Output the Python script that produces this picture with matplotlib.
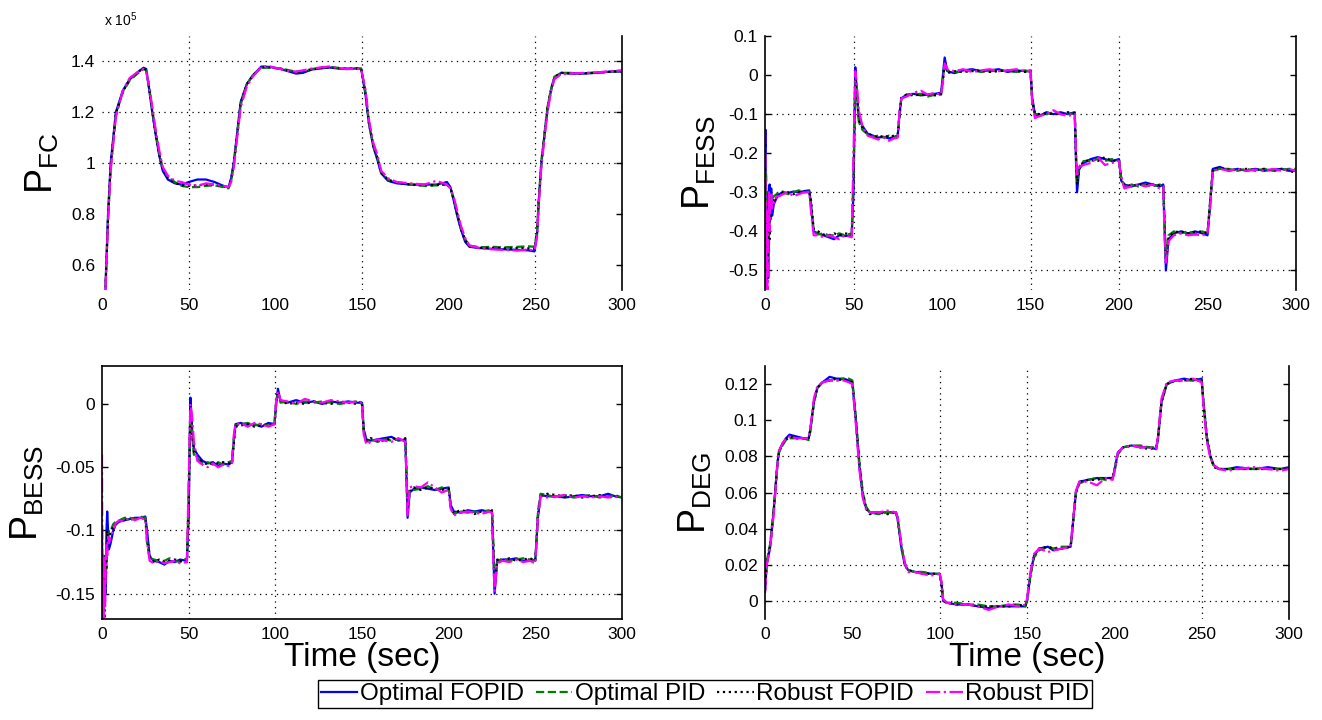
import matplotlib
matplotlib.use("Agg")
import matplotlib.pyplot as plt

plt.rcParams["font.family"] = ["Liberation Sans", "DejaVu Sans"]
plt.rcParams["mathtext.fontset"] = "custom"
plt.rcParams["mathtext.rm"] = "Liberation Sans"
plt.rcParams["mathtext.it"] = "Liberation Sans"

series_names = ["Optimal FOPID", "Optimal PID", "Robust FOPID", "Robust PID"]

# ---- P_FC (values in units of 1e5) ----
t_fc = [2, 3.5, 5, 8, 12, 16, 21, 24, 25.5, 27,
        29, 31, 33, 35, 38, 42, 46, 50, 55, 60,
        65, 70, 73, 74.5, 76, 78, 80, 83.5, 87, 92,
        97, 103, 108, 112, 116, 121, 126, 131, 136, 141,
        146, 149.5, 152, 154, 156.5, 159, 161, 165, 170, 178,
        186, 193, 199, 201, 203, 205, 207, 209.5, 212, 218,
        225, 232, 240, 246, 249.5, 251, 252, 253.5, 255.5, 257,
        259, 261, 265, 270, 278, 286, 294, 300]
fc_opt_fopid = [0.50, 0.80, 1.00, 1.20, 1.285, 1.33, 1.36, 1.375, 1.37, 1.30,
                1.20, 1.11, 1.03, 0.97, 0.935, 0.92, 0.915, 0.925, 0.935, 0.935,
                0.925, 0.91, 0.905, 0.94, 1.00, 1.12, 1.24, 1.31, 1.345, 1.38,
                1.378, 1.37, 1.36, 1.352, 1.355, 1.368, 1.372, 1.376, 1.372, 1.37,
                1.372, 1.372, 1.27, 1.155, 1.065, 1.01, 0.96, 0.93, 0.92, 0.915,
                0.915, 0.915, 0.925, 0.905, 0.85, 0.79, 0.74, 0.69, 0.67, 0.665,
                0.662, 0.66, 0.658, 0.656, 0.652, 0.72, 0.85, 1.00, 1.12, 1.21,
                1.285, 1.335, 1.355, 1.352, 1.352, 1.355, 1.36, 1.36]
fc_opt_pid = [0.52, 0.78, 0.98, 1.19, 1.28, 1.325, 1.355, 1.37, 1.365, 1.31,
              1.21, 1.12, 1.04, 0.98, 0.945, 0.925, 0.91, 0.905, 0.905, 0.91,
              0.912, 0.905, 0.90, 0.93, 0.99, 1.11, 1.23, 1.31, 1.345, 1.375,
              1.375, 1.372, 1.365, 1.36, 1.362, 1.37, 1.375, 1.378, 1.375, 1.372,
              1.373, 1.37, 1.28, 1.16, 1.07, 1.02, 0.965, 0.935, 0.925, 0.915,
              0.91, 0.912, 0.915, 0.90, 0.86, 0.80, 0.745, 0.70, 0.675, 0.668,
              0.67, 0.668, 0.67, 0.672, 0.67, 0.73, 0.86, 1.01, 1.13, 1.22,
              1.29, 1.34, 1.355, 1.355, 1.353, 1.357, 1.36, 1.362]
fc_rob_fopid = [0.51, 0.79, 0.99, 1.195, 1.28, 1.33, 1.36, 1.372, 1.367, 1.305,
                1.205, 1.115, 1.035, 0.975, 0.94, 0.922, 0.912, 0.91, 0.912, 0.915,
                0.915, 0.908, 0.902, 0.935, 0.995, 1.115, 1.235, 1.31, 1.345, 1.378,
                1.376, 1.372, 1.363, 1.357, 1.36, 1.368, 1.374, 1.377, 1.373, 1.371,
                1.372, 1.371, 1.275, 1.158, 1.068, 1.015, 0.962, 0.932, 0.922, 0.915,
                0.912, 0.913, 0.918, 0.902, 0.855, 0.795, 0.742, 0.695, 0.672, 0.666,
                0.666, 0.664, 0.665, 0.664, 0.662, 0.725, 0.855, 1.005, 1.125, 1.215,
                1.288, 1.338, 1.355, 1.353, 1.353, 1.356, 1.36, 1.361]
fc_rob_pid = [0.50, 0.77, 0.97, 1.18, 1.285, 1.335, 1.36, 1.37, 1.36, 1.31,
              1.22, 1.13, 1.05, 0.985, 0.95, 0.93, 0.925, 0.915, 0.91, 0.92,
              0.915, 0.91, 0.905, 0.925, 0.98, 1.10, 1.22, 1.30, 1.34, 1.38,
              1.38, 1.37, 1.362, 1.36, 1.365, 1.372, 1.376, 1.38, 1.374, 1.37,
              1.37, 1.37, 1.29, 1.17, 1.08, 1.03, 0.97, 0.94, 0.925, 0.92,
              0.915, 0.93, 0.915, 0.90, 0.865, 0.81, 0.755, 0.705, 0.675, 0.665,
              0.66, 0.658, 0.655, 0.66, 0.655, 0.71, 0.84, 0.99, 1.11, 1.20,
              1.28, 1.33, 1.35, 1.352, 1.355, 1.357, 1.362, 1.365]

# ---- P_FESS and P_BESS share the same time knots ----
t_ess = [0, 0.3, 0.6, 1.0, 1.4, 1.8, 2.2, 2.6, 3.0, 3.5,
         4, 5, 6.5, 8, 10, 13, 16, 19, 22, 25,
         26, 27.5, 30, 33, 36, 39, 42, 45, 49, 50,
         51, 52, 53, 55, 58, 61, 64, 67, 70, 73,
         75, 76, 77, 80, 84, 88, 92, 96, 99.5, 100.5,
         101.5, 103, 107, 112, 117, 122, 127, 132, 137, 142,
         147, 150, 151, 152.5, 155, 159, 163, 167, 171, 175,
         175.7, 176.3, 177.5, 180, 184, 188, 192, 196, 200, 201.2,
         203, 207, 211, 215, 219, 223, 225, 225.8, 226.5, 228,
         231, 235, 239, 243, 247, 250, 251.5, 253, 257, 262,
         267, 272, 277, 282, 287, 292, 296, 300]
fess_opt_fopid = [-0.20, -0.14, -0.45, -0.55, -0.30, -0.52, -0.38, -0.28, -0.37, -0.29,
                  -0.36, -0.33, -0.315, -0.305, -0.30, -0.302, -0.298, -0.30, -0.297, -0.295,
                  -0.33, -0.40, -0.405, -0.41, -0.415, -0.42, -0.41, -0.412, -0.41, -0.30,
                  0.02, -0.05, -0.11, -0.13, -0.15, -0.155, -0.16, -0.158, -0.162, -0.158,
                  -0.155, -0.10, -0.06, -0.05, -0.048, -0.052, -0.05, -0.048, -0.045, 0.00,
                  0.045, 0.01, 0.005, 0.012, 0.015, 0.01, 0.012, 0.015, 0.008, 0.012,
                  0.01, 0.01, -0.06, -0.10, -0.105, -0.095, -0.10, -0.095, -0.10, -0.095,
                  -0.22, -0.30, -0.24, -0.225, -0.215, -0.21, -0.215, -0.22, -0.215, -0.27,
                  -0.28, -0.285, -0.28, -0.275, -0.28, -0.285, -0.28, -0.40, -0.50, -0.42,
                  -0.405, -0.40, -0.405, -0.40, -0.405, -0.41, -0.33, -0.24, -0.235, -0.245,
                  -0.24, -0.245, -0.24, -0.245, -0.242, -0.24, -0.245, -0.245]
fess_opt_pid = [-0.40, -0.55, -0.25, -0.50, -0.42, -0.35, -0.45, -0.33, -0.31, -0.34,
                -0.32, -0.31, -0.305, -0.30, -0.298, -0.305, -0.30, -0.295, -0.30, -0.298,
                -0.34, -0.40, -0.408, -0.405, -0.41, -0.41, -0.405, -0.41, -0.405, -0.25,
                -0.02, -0.06, -0.12, -0.14, -0.152, -0.158, -0.155, -0.16, -0.155, -0.16,
                -0.155, -0.11, -0.06, -0.052, -0.05, -0.048, -0.055, -0.05, -0.05, -0.01,
                0.03, 0.012, 0.008, 0.01, 0.012, 0.008, 0.01, 0.012, 0.01, 0.008,
                0.012, 0.008, -0.07, -0.10, -0.10, -0.10, -0.095, -0.10, -0.098, -0.10,
                -0.20, -0.27, -0.235, -0.22, -0.22, -0.215, -0.22, -0.215, -0.22, -0.26,
                -0.285, -0.28, -0.285, -0.28, -0.285, -0.28, -0.285, -0.38, -0.47, -0.41,
                -0.40, -0.405, -0.40, -0.408, -0.40, -0.405, -0.32, -0.245, -0.24, -0.24,
                -0.245, -0.24, -0.245, -0.24, -0.245, -0.242, -0.24, -0.24]
fess_rob_fopid = [-0.30, -0.50, -0.40, -0.45, -0.50, -0.40, -0.35, -0.42, -0.33, -0.32,
                  -0.33, -0.32, -0.31, -0.305, -0.30, -0.30, -0.305, -0.30, -0.298, -0.30,
                  -0.32, -0.395, -0.40, -0.408, -0.41, -0.405, -0.41, -0.405, -0.408, -0.28,
                  0.0, -0.055, -0.115, -0.135, -0.15, -0.155, -0.16, -0.155, -0.158, -0.155,
                  -0.152, -0.10, -0.058, -0.05, -0.052, -0.05, -0.05, -0.052, -0.048, -0.02,
                  0.035, 0.005, 0.01, 0.008, 0.01, 0.012, 0.008, 0.01, 0.012, 0.01,
                  0.008, 0.012, -0.065, -0.098, -0.10, -0.098, -0.10, -0.10, -0.095, -0.098,
                  -0.21, -0.28, -0.24, -0.22, -0.218, -0.22, -0.21, -0.22, -0.218, -0.265,
                  -0.28, -0.283, -0.28, -0.282, -0.28, -0.283, -0.282, -0.39, -0.48, -0.415,
                  -0.402, -0.40, -0.405, -0.402, -0.40, -0.405, -0.325, -0.24, -0.238, -0.242,
                  -0.242, -0.24, -0.243, -0.24, -0.245, -0.24, -0.245, -0.25]
fess_rob_pid = [-0.14, -0.30, -0.55, -0.35, -0.55, -0.45, -0.30, -0.40, -0.32, -0.30,
                -0.34, -0.33, -0.31, -0.31, -0.305, -0.30, -0.31, -0.305, -0.30, -0.30,
                -0.35, -0.41, -0.41, -0.415, -0.41, -0.415, -0.42, -0.41, -0.415, -0.20,
                0.01, -0.03, -0.09, -0.13, -0.155, -0.16, -0.165, -0.16, -0.168, -0.162,
                -0.16, -0.09, -0.06, -0.055, -0.045, -0.04, -0.05, -0.045, -0.05, -0.02,
                0.03, 0.015, 0.01, 0.015, 0.008, 0.012, 0.015, 0.01, 0.012, 0.015,
                0.01, 0.012, -0.075, -0.11, -0.105, -0.10, -0.09, -0.10, -0.105, -0.10,
                -0.20, -0.26, -0.235, -0.23, -0.225, -0.21, -0.23, -0.225, -0.22, -0.26,
                -0.29, -0.285, -0.28, -0.285, -0.28, -0.29, -0.285, -0.42, -0.48, -0.425,
                -0.41, -0.405, -0.41, -0.408, -0.41, -0.405, -0.34, -0.245, -0.24, -0.245,
                -0.24, -0.245, -0.242, -0.245, -0.24, -0.245, -0.24, -0.245]

bess_opt_fopid = [-0.10, -0.16, -0.17, -0.12, -0.16, -0.13, -0.15, -0.10, -0.085, -0.10,
                  -0.115, -0.11, -0.10, -0.095, -0.093, -0.092, -0.091, -0.09, -0.09, -0.089,
                  -0.10, -0.121, -0.124, -0.125, -0.127, -0.124, -0.125, -0.123, -0.124, -0.09,
                  0.005, -0.02, -0.035, -0.04, -0.045, -0.047, -0.046, -0.049, -0.047, -0.048,
                  -0.046, -0.03, -0.016, -0.015, -0.017, -0.016, -0.018, -0.015, -0.016, 0.0,
                  0.012, 0.002, 0.001, 0.003, 0.001, 0.002, 0.0, 0.002, 0.001, 0.002,
                  0.001, 0.001, -0.02, -0.028, -0.029, -0.028, -0.027, -0.026, -0.029, -0.028,
                  -0.06, -0.09, -0.07, -0.067, -0.066, -0.067, -0.068, -0.067, -0.066, -0.08,
                  -0.085, -0.086, -0.084, -0.085, -0.084, -0.085, -0.085, -0.12, -0.15, -0.124,
                  -0.123, -0.123, -0.122, -0.124, -0.124, -0.123, -0.09, -0.072, -0.073, -0.073,
                  -0.074, -0.073, -0.072, -0.073, -0.073, -0.071, -0.073, -0.074]
bess_opt_pid = [-0.13, -0.17, -0.12, -0.16, -0.14, -0.15, -0.12, -0.13, -0.11, -0.105,
                -0.10, -0.10, -0.095, -0.093, -0.092, -0.09, -0.09, -0.091, -0.089, -0.09,
                -0.11, -0.122, -0.123, -0.124, -0.124, -0.122, -0.124, -0.125, -0.122, -0.07,
                -0.005, -0.025, -0.04, -0.043, -0.047, -0.046, -0.048, -0.046, -0.048, -0.046,
                -0.045, -0.028, -0.017, -0.016, -0.015, -0.017, -0.016, -0.017, -0.015, 0.002,
                0.008, 0.001, 0.002, 0.0, 0.002, 0.001, 0.002, 0.001, 0.0, 0.001,
                0.002, 0.0, -0.022, -0.03, -0.028, -0.03, -0.028, -0.029, -0.028, -0.029,
                -0.055, -0.08, -0.068, -0.068, -0.067, -0.065, -0.068, -0.066, -0.067, -0.08,
                -0.087, -0.085, -0.086, -0.085, -0.086, -0.084, -0.086, -0.11, -0.14, -0.125,
                -0.122, -0.124, -0.123, -0.122, -0.123, -0.124, -0.085, -0.071, -0.072, -0.074,
                -0.072, -0.074, -0.073, -0.072, -0.074, -0.073, -0.072, -0.074]
bess_rob_fopid = [-0.15, -0.12, -0.16, -0.14, -0.17, -0.12, -0.14, -0.12, -0.10, -0.11,
                  -0.105, -0.102, -0.097, -0.095, -0.093, -0.091, -0.092, -0.09, -0.091, -0.09,
                  -0.105, -0.12, -0.125, -0.123, -0.125, -0.124, -0.123, -0.124, -0.125, -0.08,
                  0.0, -0.022, -0.038, -0.042, -0.046, -0.048, -0.047, -0.047, -0.046, -0.047,
                  -0.047, -0.032, -0.018, -0.017, -0.016, -0.018, -0.017, -0.016, -0.017, 0.001,
                  0.01, 0.003, 0.0, 0.001, 0.0, 0.002, 0.001, 0.0, 0.002, 0.001,
                  0.0, 0.002, -0.021, -0.029, -0.027, -0.029, -0.029, -0.027, -0.028, -0.027,
                  -0.058, -0.085, -0.069, -0.066, -0.068, -0.066, -0.067, -0.068, -0.067, -0.082,
                  -0.086, -0.084, -0.085, -0.087, -0.085, -0.086, -0.084, -0.115, -0.145, -0.123,
                  -0.124, -0.122, -0.124, -0.123, -0.122, -0.124, -0.088, -0.073, -0.071, -0.072,
                  -0.073, -0.072, -0.074, -0.073, -0.072, -0.074, -0.073, -0.073]
bess_rob_pid = [-0.04, -0.17, -0.14, -0.17, -0.12, -0.16, -0.13, -0.11, -0.12, -0.105,
                -0.11, -0.105, -0.10, -0.094, -0.092, -0.093, -0.09, -0.092, -0.09, -0.091,
                -0.11, -0.124, -0.126, -0.124, -0.126, -0.125, -0.124, -0.126, -0.125, -0.06,
                0.0, -0.01, -0.03, -0.045, -0.048, -0.05, -0.047, -0.05, -0.048, -0.049,
                -0.047, -0.025, -0.016, -0.015, -0.018, -0.015, -0.016, -0.018, -0.016, 0.003,
                0.01, 0.003, 0.002, 0.0, 0.004, 0.002, 0.001, 0.003, 0.002, 0.001,
                0.002, 0.001, -0.024, -0.032, -0.03, -0.028, -0.029, -0.03, -0.027, -0.03,
                -0.06, -0.088, -0.066, -0.065, -0.066, -0.062, -0.066, -0.07, -0.068, -0.083,
                -0.088, -0.086, -0.085, -0.086, -0.087, -0.085, -0.086, -0.125, -0.148, -0.126,
                -0.124, -0.125, -0.123, -0.125, -0.124, -0.126, -0.09, -0.073, -0.074, -0.073,
                -0.072, -0.074, -0.073, -0.074, -0.073, -0.074, -0.073, -0.074]

# ---- P_DEG ----
t_deg = [0, 1, 3, 5, 7, 8, 10, 12, 14, 18,
         22, 25, 26, 28, 30, 33, 37, 41, 45, 48,
         50, 52, 54, 56, 58, 60, 65, 70, 75, 76,
         78, 80, 82, 86, 90, 95, 100, 101, 102, 104,
         110, 116, 122, 128, 134, 140, 145, 149, 150, 152,
         154, 157, 162, 165, 170, 175, 176, 178, 180, 185,
         190, 195, 199, 200, 202, 205, 210, 215, 220, 224,
         225, 227, 230, 235, 240, 245, 250, 251, 253, 255,
         257, 260, 265, 270, 280, 288, 295, 300]
deg_opt_fopid = [0.005, 0.02, 0.03, 0.05, 0.075, 0.083, 0.087, 0.09, 0.092, 0.091,
                 0.09, 0.09, 0.095, 0.11, 0.118, 0.121, 0.124, 0.123, 0.123, 0.122,
                 0.121, 0.10, 0.075, 0.058, 0.051, 0.049, 0.049, 0.049, 0.049, 0.045,
                 0.03, 0.02, 0.017, 0.016, 0.016, 0.015, 0.015, 0.01, 0.0, -0.001,
                 -0.002, -0.002, -0.003, -0.004, -0.003, -0.003, -0.003, -0.003, 0.0, 0.015,
                 0.025, 0.029, 0.03, 0.028, 0.029, 0.03, 0.04, 0.06, 0.066, 0.067,
                 0.068, 0.068, 0.068, 0.072, 0.082, 0.085, 0.086, 0.085, 0.085, 0.084,
                 0.09, 0.11, 0.12, 0.122, 0.123, 0.122, 0.123, 0.11, 0.09, 0.08,
                 0.075, 0.073, 0.073, 0.074, 0.073, 0.074, 0.073, 0.074]
deg_opt_pid = [0.008, 0.022, 0.032, 0.052, 0.074, 0.082, 0.086, 0.089, 0.09, 0.09,
               0.09, 0.089, 0.094, 0.11, 0.118, 0.121, 0.122, 0.122, 0.123, 0.123,
               0.122, 0.102, 0.077, 0.06, 0.052, 0.049, 0.048, 0.049, 0.049, 0.046,
               0.031, 0.021, 0.017, 0.016, 0.016, 0.015, 0.015, 0.01, 0.001, -0.001,
               -0.001, -0.002, -0.002, -0.003, -0.003, -0.002, -0.002, -0.003, 0.0, 0.014,
               0.024, 0.028, 0.03, 0.029, 0.03, 0.03, 0.04, 0.06, 0.065, 0.067,
               0.068, 0.067, 0.068, 0.071, 0.081, 0.085, 0.086, 0.086, 0.085, 0.085,
               0.09, 0.11, 0.12, 0.122, 0.122, 0.122, 0.122, 0.111, 0.091, 0.08,
               0.074, 0.073, 0.073, 0.073, 0.073, 0.073, 0.073, 0.073]
deg_rob_fopid = [0.006, 0.021, 0.031, 0.05, 0.075, 0.082, 0.087, 0.089, 0.091, 0.09,
                 0.09, 0.09, 0.095, 0.11, 0.118, 0.121, 0.122, 0.123, 0.122, 0.122,
                 0.121, 0.101, 0.076, 0.059, 0.051, 0.048, 0.049, 0.048, 0.049, 0.045,
                 0.03, 0.02, 0.017, 0.016, 0.015, 0.015, 0.015, 0.01, 0.0, -0.001,
                 -0.002, -0.002, -0.003, -0.003, -0.003, -0.003, -0.002, -0.003, 0.0, 0.015,
                 0.025, 0.029, 0.03, 0.029, 0.029, 0.03, 0.04, 0.06, 0.066, 0.067,
                 0.067, 0.068, 0.068, 0.072, 0.082, 0.085, 0.086, 0.085, 0.084, 0.085,
                 0.09, 0.11, 0.12, 0.122, 0.122, 0.123, 0.122, 0.11, 0.09, 0.08,
                 0.074, 0.073, 0.073, 0.073, 0.073, 0.073, 0.073, 0.073]
deg_rob_pid = [0.005, 0.02, 0.03, 0.048, 0.074, 0.083, 0.087, 0.09, 0.091, 0.09,
               0.09, 0.09, 0.096, 0.112, 0.119, 0.121, 0.122, 0.122, 0.122, 0.121,
               0.12, 0.098, 0.073, 0.057, 0.05, 0.049, 0.049, 0.05, 0.049, 0.046,
               0.032, 0.021, 0.016, 0.016, 0.015, 0.014, 0.015, 0.011, 0.001, -0.001,
               -0.002, -0.002, -0.003, -0.005, -0.003, -0.002, -0.003, -0.002, 0.001, 0.016,
               0.026, 0.029, 0.027, 0.028, 0.029, 0.03, 0.041, 0.061, 0.066, 0.066,
               0.064, 0.068, 0.067, 0.071, 0.082, 0.085, 0.086, 0.085, 0.085, 0.084,
               0.091, 0.112, 0.121, 0.122, 0.122, 0.123, 0.121, 0.109, 0.088, 0.079,
               0.075, 0.073, 0.072, 0.073, 0.074, 0.073, 0.072, 0.073]

line_styles = [("-", "#0000ff"), ("--", "#008000"), (":", "black"), ("-.", "#ff00ff")]
grid_ls = (0, (1, 3.5))

W, H = 1322, 720
fig = plt.figure(figsize=(W / 100, H / 100), dpi=100)


def px_axes(l, t, r, b):
    return fig.add_axes([l / W, 1 - b / H, (r - l) / W, (b - t) / H])


panels = [
    dict(box=(102, 36, 622, 290), t=t_fc,
         ys=[fc_opt_fopid, fc_opt_pid, fc_rob_fopid, fc_rob_pid],
         ylim=(0.5, 1.5), yticks=[0.6, 0.8, 1.0, 1.2, 1.4],
         label=r"$\mathregular{P_{FC}}$", vgrid=[50, 150, 250], hgrid=[1.0, 1.2, 1.4],
         spines=["right"], xlabel=False),
    dict(box=(765, 36, 1296, 290), t=t_ess,
         ys=[fess_opt_fopid, fess_opt_pid, fess_rob_fopid, fess_rob_pid],
         ylim=(-0.55, 0.1), yticks=[-0.5, -0.4, -0.3, -0.2, -0.1, 0, 0.1],
         label=r"$\mathregular{P_{FESS}}$", vgrid=[50, 150, 200], hgrid=[-0.5, -0.3, -0.1],
         spines=["left", "right"], xlabel=False),
    dict(box=(102, 366, 622, 619), t=t_ess,
         ys=[bess_opt_fopid, bess_opt_pid, bess_rob_fopid, bess_rob_pid],
         ylim=(-0.17, 0.03), yticks=[-0.15, -0.1, -0.05, 0],
         label=r"$\mathregular{P_{BESS}}$", vgrid=[50, 100], hgrid=[-0.15, -0.1],
         spines=["left", "right", "top", "bottom"], xlabel=True),
    dict(box=(765, 366, 1289, 619), t=t_deg,
         ys=[deg_opt_fopid, deg_opt_pid, deg_rob_fopid, deg_rob_pid],
         ylim=(-0.01, 0.13), yticks=[0, 0.02, 0.04, 0.06, 0.08, 0.1, 0.12],
         label=r"$\mathregular{P_{DEG}}$", vgrid=[100, 150, 250], hgrid=[0, 0.02, 0.06, 0.08],
         spines=["left", "right"], xlabel=True),
]

handles = []
for p in panels:
    ax = px_axes(*p["box"])
    for v in p["vgrid"]:
        ax.axvline(v, color="black", lw=0.9, ls=grid_ls, zorder=0)
    for h in p["hgrid"]:
        ax.axhline(h, color="black", lw=0.9, ls=grid_ls, zorder=0)
    hs = []
    for (ls, c), y, name in zip(line_styles, p["ys"], series_names):
        ln, = ax.plot(p["t"], y, ls=ls, color=c, lw=1.6, label=name)
        hs.append(ln)
    handles = hs
    ax.set_xlim(0, 300)
    ax.set_ylim(*p["ylim"])
    ax.set_xticks([0, 50, 100, 150, 200, 250, 300])
    ax.set_yticks(p["yticks"])
    ax.set_yticklabels(["%g" % v for v in p["yticks"]])
    for s in ["left", "right", "top", "bottom"]:
        ax.spines[s].set_visible(s in p["spines"])
        ax.spines[s].set_linewidth(1.2)
    ax.tick_params(direction="in", length=4, width=1, labelsize=12.5,
                   right=True, top=False, pad=5)
    ax.tick_params(axis="x", length=0, pad=6)
    if "left" not in p["spines"]:
        ax.tick_params(axis="y", left=False)
    ax.set_ylabel(p["label"], fontsize=27, labelpad=7)
    if p["xlabel"]:
        ax.set_xlabel("Time (sec)", fontsize=24, labelpad=0)

fig.text(104 / W, 1 - 20 / H, r"x 10$^{\mathregular{5}}$", fontsize=10, va="center")

fig.legend(handles=handles, labels=series_names, loc="center",
           bbox_to_anchor=(705 / W, 1 - 694 / H), ncol=4, fontsize=17.5,
           frameon=True, fancybox=False, edgecolor="black", framealpha=1,
           handlelength=1.5, handletextpad=0.1, columnspacing=0.5,
           borderpad=0.12, borderaxespad=0)

fig.savefig("out.png", dpi=100)
